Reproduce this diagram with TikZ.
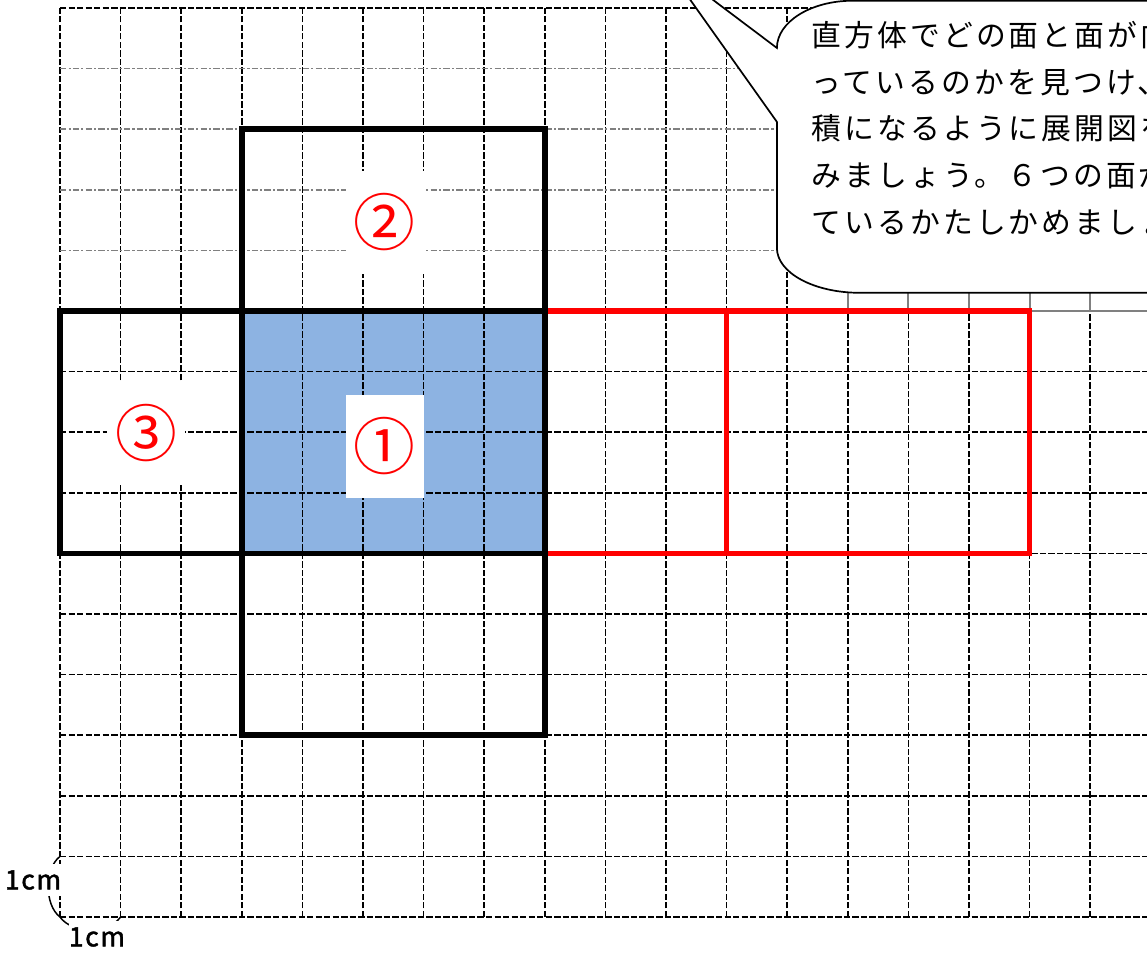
\documentclass[tikz,border=0pt]{standalone}
\usepackage{fontspec}
\newfontfamily\cjk{Noto Sans CJK JP}
\newfontfamily\cjkwide[LetterSpace=10.5]{Noto Sans CJK JP}
\newfontfamily\cjkbold[FakeBold=1.5, LetterSpace=6]{Noto Sans CJK JP}
\definecolor{faceblue}{RGB}{141,179,226}
\begin{document}
\begin{tikzpicture}[
  gridline/.style = {line width = 0.7pt, dash pattern = on 3pt off 1pt},
  gridgray/.style = {gray, line width = 0.7pt, dash pattern = on 3pt off 1pt on 1pt off 1pt},
  netline/.style = {line width = 2.6pt},
  labelbox/.style = {fill = white, text = red, inner sep = 0pt,
    minimum width = 1.28cm, minimum height = 1.7cm,
    font = \cjk\fontsize{29}{29}\selectfont},
  hinttext/.style = {anchor = base west, inner sep = 0pt,
    font = \cjkwide\fontsize{14}{16}\selectfont},
  cmlabel/.style = {fill = white, inner xsep = 0pt, inner ysep = 3pt,
    font = \cjkbold\fontsize{12.5}{12.5}\selectfont}
]
  \useasboundingbox (-0.990, -0.578) rectangle (17.937, 15.132);
  \clip (-0.990, -0.578) rectangle (17.937, 15.132);

  \fill[faceblue] (3, 6) rectangle (8, 10);

  \foreach \x in {0, ..., 17}
    \draw[gridline] (\x, 0) -- (\x, 15);
  \foreach \y in {0, ..., 10, 15}
    \draw[gridline] (0, \y) -- (18, \y);
  \foreach \y in {11, ..., 14}
    \draw[gridgray] (0, \y) -- (18, \y);
  \foreach \x in {13, ..., 17}
    \draw[gray, line width = 0.9pt] (\x, 10) -- (\x, 15);
  \draw[gray, line width = 0.9pt] (16, 10) -- (18, 10);

  \node[labelbox] (face1) at (5.36, 7.77) {①};
  \node[labelbox] (face2) at (5.36, 11.46) {②};
  \node[labelbox] (face3) at (1.42, 7.98) {③};

  \draw[netline, red] (8, 6) rectangle (11, 10);
  \draw[netline, red] (11, 6) rectangle (16, 10);
  \draw[netline] (3, 10) rectangle (8, 13);
  \draw[netline] (0, 6) rectangle (3, 10);
  \draw[netline] (3, 6) rectangle (8, 10);
  \draw[netline] (3, 3) rectangle (8, 6);

  \draw[fill = white, line width = 0.8pt]
    (11.83, 13.12) -- (9.97, 15.74) -- (11.83, 14.34)
    .. controls (11.83, 14.77) and (12.39, 15.12) .. (13.08, 15.12)
    -- (18.5, 15.12) -- (18.5, 10.30) -- (13.20, 10.30)
    .. controls (12.44, 10.30) and (11.83, 10.63) .. (11.83, 11.04)
    -- cycle;
  \foreach \line [count = \i] in {直方体でどの面と面が向, っているのかを見つけ、,
      積になるように展開図を, みましょう。６つの面が, ているかたしかめましょう}
    \node[hinttext] (hint\i) at (12.39, {14.36 - 0.769*(\i - 1)}) {\line};

  \draw[line width = 0.7pt] (0, 1) .. controls (-0.26, 0.8) and (-0.26, 0.2) .. (0, 0);
  \draw[line width = 0.7pt] (0, 0) .. controls (0.2, -0.28) and (0.8, -0.28) .. (1, 0);
  \node[cmlabel] (cmleft) at (-0.445, 0.61) {1cm};
  \node[cmlabel] (cmbottom) at (0.61, -0.33) {1cm};
\end{tikzpicture}
\end{document}
